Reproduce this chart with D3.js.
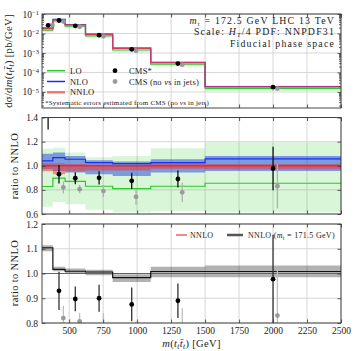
<!DOCTYPE html>
<html>
<head>
<meta charset="utf-8">
<script src="https://cdn.jsdelivr.net/npm/d3@7"></script>
<style>
  body { margin: 0; background: #fff; }
  text { font-family: "Liberation Serif", "DejaVu Serif", serif; fill: #222; }
</style>
</head>
<body>
<svg width="355" height="351"></svg>
<script>

// bin edges of m(tt) [GeV]
var edges = [300, 380, 470, 620, 820, 1100, 1500, 2500];

// NNLO cross section per bin [pb/GeV]
var nnloXsec = [1.8e-2, 5.0e-2, 2.75e-2, 9.1e-3, 1.75e-3, 3.2e-4, 1.8e-5];

// ratios to NNLO (central, low, high)
var loRatio   = [0.828, 0.897, 0.870, 0.830, 0.810, 0.830, 0.855];
var loLow     = [0.660, 0.700, 0.680, 0.635, 0.615, 0.625, 0.615];
var loHigh    = [1.140, 1.150, 1.110, 1.070, 1.080, 1.145, 1.195];
var nloRatio  = [1.040, 1.068, 1.054, 1.026, 1.018, 1.026, 1.057];
var nloLow    = [0.970, 0.957, 0.944, 0.930, 0.916, 0.944, 0.957];
var nloHigh   = [1.100, 1.110, 1.080, 1.045, 1.035, 1.054, 1.080];
var nnloRatio = [1, 1, 1, 1, 1, 1, 1];
var nnloLow   = [0.955, 0.930, 0.955, 0.960, 0.960, 0.975, 0.970];
var nnloHigh  = [1.020, 1.020, 1.015, 1.010, 1.010, 1.020, 1.015];

// NNLO with mt = 171.5 GeV, ratio to NNLO (mt = 172.5 GeV)
var mt171Ratio = [1.104, 1.017, 1.009, 1.006, 0.983, 1.008, 1.008];
var mt171Low   = [1.090, 1.009, 1.000, 0.993, 0.966, 0.985, 0.985];
var mt171High  = [1.114, 1.027, 1.020, 1.015, 0.997, 1.027, 1.032];

// CMS data, ratio to NNLO
var cmsX     = [345, 425, 545, 720, 960, 1300, 2000];
var cmsRatio = [1.45, 0.930, 0.897, 0.900, 0.875, 0.890, 0.977];
var cmsErr   = [0.15, 0.077, 0.050, 0.055, 0.068, 0.070, 0.180];
var cmsNoNuX     = [377, 457, 577, 752, 992, 1332, 2032];
var cmsNoNuRatio = [1.50, 0.820, 0.806, 0.790, 0.742, 0.780, 0.830];
var cmsNoNuErr   = [0.06, 0.050, 0.035, 0.050, 0.065, 0.080, 0.185];

var xTicks = [500, 750, 1000, 1250, 1500, 1750, 2000, 2250, 2500];

var svg = d3.select("svg");
var L = 42, R = 341;

var x = d3.scaleLinear().domain([300, 2500]).range([L, R]);
var yTop = d3.scaleLog().domain([1.5e-6, 0.1]).range([108, 14]);
var yMid = d3.scaleLinear().domain([0.6, 1.4]).range([214, 117.5]);
var yBot = d3.scaleLinear().domain([0.8, 1.2]).range([323, 224]);

var green = "#2ec82e", blue = "#1a2ff0", red = "#ee2a2a";

function stepPts(vals) {
  var pts = vals.map(function(v, i) { return [edges[i], v]; });
  pts.push([edges[edges.length - 1], vals[vals.length - 1]]);
  return pts;
}
function bandPts(lo, hi) {
  var pts = lo.map(function(v, i) { return [edges[i], v, hi[i]]; });
  pts.push([edges[edges.length - 1], lo[lo.length - 1], hi[hi.length - 1]]);
  return pts;
}

function makePanel(id, y, yGrid) {
  var top = y.range()[1], bot = y.range()[0];
  svg.append("clipPath").attr("id", id)
    .append("rect").attr("x", L).attr("y", top).attr("width", R - L).attr("height", bot - top);
  var g = svg.append("g");
  // grid
  g.append("g").selectAll("line").data(xTicks).enter().append("line")
      .attr("x1", function(d) { return x(d); }).attr("x2", function(d) { return x(d); })
      .attr("y1", top).attr("y2", bot)
      .attr("stroke", "#d2d2d2").attr("stroke-width", 0.9);
  g.append("g").selectAll("line").data(yGrid).enter().append("line")
      .attr("x1", L).attr("x2", R)
      .attr("y1", function(d) { return y(d); }).attr("y2", function(d) { return y(d); })
      .attr("stroke", "#d2d2d2").attr("stroke-width", 0.9);
  var inner = g.append("g").attr("clip-path", "url(#" + id + ")");
  return { g: g, inner: inner, top: top, bot: bot, y: y };
}

function frame(p, yMajor, yMinor, labels, isLog) {
  var g = p.g.append("g");
  g.append("g").attr("transform", "translate(0," + p.bot + ")")
    .call(d3.axisBottom(x).tickValues(xTicks).tickSizeInner(-3.5).tickSizeOuter(0)
      .tickPadding(4).tickFormat(labels ? d3.format("d") : ""));
  g.append("g").attr("transform", "translate(0," + p.top + ")")
    .call(d3.axisTop(x).tickValues(xTicks).tickSizeInner(-3.5).tickSizeOuter(0).tickFormat(""));
  var left = g.append("g").attr("transform", "translate(" + L + ",0)")
    .call(d3.axisLeft(p.y).tickValues(yMajor).tickSizeInner(-3.5).tickSizeOuter(0).tickPadding(4)
      .tickFormat(isLog ? "" : d3.format(".1f")));
  g.append("g").attr("transform", "translate(" + R + ",0)")
    .call(d3.axisRight(p.y).tickValues(yMajor).tickSizeInner(-3.5).tickSizeOuter(0).tickFormat(""));
  if (yMinor) {
    g.append("g").attr("transform", "translate(" + L + ",0)")
      .call(d3.axisLeft(p.y).tickValues(yMinor).tickSizeInner(-2).tickSizeOuter(0).tickFormat(""));
    g.append("g").attr("transform", "translate(" + R + ",0)")
      .call(d3.axisRight(p.y).tickValues(yMinor).tickSizeInner(-2).tickSizeOuter(0).tickFormat(""));
  }
  g.selectAll(".domain").remove();
  g.selectAll(".tick line").attr("stroke", "#333").attr("stroke-width", 0.8);
  g.selectAll(".tick text").attr("font-size", 9.5).attr("fill", "#222")
    .style("font-family", "'Liberation Serif', serif");
  if (isLog) {
    left.selectAll(".tick").append("text")
        .attr("x", -3).attr("dy", "0.32em").attr("text-anchor", "end")
        .attr("fill", "#222").attr("font-size", 9.5)
        .style("font-family", "'Liberation Serif', serif")
      .each(function(d) {
        var t = d3.select(this);
        t.append("tspan").text("10");
        t.append("tspan").attr("dy", "-0.45em").attr("font-size", 6.5)
          .text("\u2212" + Math.round(-Math.log10(d)));
      });
  }
  g.append("rect").attr("x", L).attr("y", p.top).attr("width", R - L).attr("height", p.bot - p.top)
    .attr("fill", "none").attr("stroke", "#333").attr("stroke-width", 0.9);
}

function drawBand(p, lo, hi, fill, op, scale) {
  var area = d3.area().curve(d3.curveStepAfter)
    .x(function(d) { return x(d[0]); })
    .y0(function(d, i) { return p.y(d[1] * scale[Math.min(i, scale.length - 1)]); })
    .y1(function(d, i) { return p.y(d[2] * scale[Math.min(i, scale.length - 1)]); });
  p.inner.append("path").datum(bandPts(lo, hi)).attr("d", area)
    .attr("fill", fill).attr("fill-opacity", op);
}

function drawStep(p, vals, color, w, scale, op) {
  var line = d3.line().curve(d3.curveStepAfter)
    .x(function(d) { return x(d[0]); })
    .y(function(d, i) { return p.y(d[1] * scale[Math.min(i, scale.length - 1)]); });
  p.inner.append("path").datum(stepPts(vals)).attr("d", line)
    .attr("fill", "none").attr("stroke", color).attr("stroke-width", w)
    .attr("stroke-opacity", op || 1);
}

function drawPoints(p, xs, vals, errs, color, ecolor, scale) {
  var g = p.inner.append("g");
  xs.forEach(function(xv, i) {
    var s = scale[i];
    if (errs[i] > 0) {
      g.append("line")
        .attr("x1", x(xv)).attr("x2", x(xv))
        .attr("y1", p.y((vals[i] - errs[i]) * s)).attr("y2", p.y((vals[i] + errs[i]) * s))
        .attr("stroke", ecolor).attr("stroke-width", 1.3);
    }
    g.append("circle").attr("cx", x(xv)).attr("cy", p.y(vals[i] * s)).attr("r", 2.4)
      .attr("fill", color);
  });
}

var ones = nnloRatio;
var noErr = [0, 0, 0, 0, 0, 0, 0];

// ---------- top panel ----------
var pTop = makePanel("clipTop", yTop, [1e-5, 1e-4, 1e-3, 1e-2, 1e-1]);
drawBand(pTop, loLow, loHigh, "#00c000", 0.15, nnloXsec);
drawBand(pTop, nloLow, nloHigh, "#3050e0", 0.35, nnloXsec);
drawBand(pTop, nnloLow, nnloHigh, "#e83030", 0.4, nnloXsec);
drawStep(pTop, loRatio, green, 1.2, nnloXsec);
drawStep(pTop, nloRatio, blue, 1.2, nnloXsec);
drawStep(pTop, nnloRatio, "#ee3a50", 1.3, nnloXsec, 0.85);
drawPoints(pTop, cmsNoNuX, cmsNoNuRatio, noErr, "#9a9a9a", "#9a9a9a", nnloXsec);
drawPoints(pTop, cmsX, cmsRatio, noErr, "#000", "#000", nnloXsec);
var minors = [];
for (var e = -6; e < -1; e++) for (var m = 2; m < 10; m++) {
  var v = m * Math.pow(10, e);
  if (v > 1.5e-6 && v < 0.1) minors.push(v);
}
frame(pTop, [1e-5, 1e-4, 1e-3, 1e-2, 1e-1], minors, false, true);

// ---------- middle panel ----------
var pMid = makePanel("clipMid", yMid, [0.6, 0.8, 1.0, 1.2, 1.4]);
drawBand(pMid, loLow, loHigh, "#00c000", 0.15, ones);
drawBand(pMid, nloLow, nloHigh, "#3050e0", 0.55, ones);
drawBand(pMid, nnloLow, nnloHigh, "#e83030", 0.5, ones);
drawStep(pMid, loRatio, green, 1.2, ones);
drawStep(pMid, nloRatio, blue, 1.2, ones);
drawStep(pMid, nnloRatio, red, 1.3, ones);
drawPoints(pMid, cmsNoNuX, cmsNoNuRatio, cmsNoNuErr, "#9a9a9a", "#b0b0b0", ones);
drawPoints(pMid, cmsX, cmsRatio, cmsErr, "#000", "#111", ones);
frame(pMid, [0.6, 0.8, 1.0, 1.2, 1.4], null, false, false);

// ---------- bottom panel ----------
var pBot = makePanel("clipBot", yBot, [0.8, 0.9, 1.0, 1.1, 1.2]);
drawBand(pBot, mt171Low, mt171High, "#000", 0.3, ones);
drawStep(pBot, nnloRatio, red, 1.2, ones);
drawStep(pBot, mt171Ratio, "#111", 1.2, ones);
drawPoints(pBot, cmsNoNuX, cmsNoNuRatio, cmsNoNuErr, "#9a9a9a", "#c0c0c0", ones);
drawPoints(pBot, cmsX, cmsRatio, cmsErr, "#000", "#333", ones);
frame(pBot, [0.8, 0.9, 1.0, 1.1, 1.2], null, true, false);

// ---------- labels ----------
function ylab(cx, cy, build) {
  var t = svg.append("text").attr("transform", "translate(" + cx + "," + cy + ") rotate(-90)")
    .attr("text-anchor", "middle").attr("font-size", 10.5).attr("letter-spacing", 0.35);
  build(t);
}
ylab(12, 61, function(t) {
  t.append("tspan").text("d\u03c3/d");
  t.append("tspan").attr("font-style", "italic").text("m");
  t.append("tspan").text("(");
  t.append("tspan").attr("font-style", "italic").text("t");
  t.append("tspan").attr("font-size", 7.5).attr("dy", 2).attr("font-style", "italic").text("t");
  t.append("tspan").attr("dy", -2).attr("font-style", "italic").text("t\u0304");
  t.append("tspan").attr("font-size", 7.5).attr("dy", 2).attr("font-style", "italic").text("t");
  t.append("tspan").attr("dy", -2).text(") [pb/GeV]");
});
ylab(18, 166, function(t) { t.text("ratio to NNLO"); });
ylab(18, 273, function(t) { t.text("ratio to NNLO"); });

var xl = svg.append("text").attr("x", (L + R) / 2).attr("y", 346.5)
  .attr("text-anchor", "middle").attr("font-size", 10.5).attr("letter-spacing", 0.35);
xl.append("tspan").attr("font-style", "italic").text("m");
xl.append("tspan").text("(");
xl.append("tspan").attr("font-style", "italic").text("t");
xl.append("tspan").attr("font-size", 7.5).attr("dy", 2).attr("font-style", "italic").text("t");
xl.append("tspan").attr("dy", -2).attr("font-style", "italic").text("t\u0304");
xl.append("tspan").attr("font-size", 7.5).attr("dy", 2).attr("font-style", "italic").text("t");
xl.append("tspan").attr("dy", -2).text(") [GeV]");

// top-right annotation
var ann = svg.append("g").attr("font-size", 9.8).attr("text-anchor", "end")
  .attr("letter-spacing", 1.2);
var a1 = ann.append("text").attr("x", 335).attr("y", 24.2);
a1.append("tspan").attr("font-style", "italic").text("m");
a1.append("tspan").attr("font-size", 6.5).attr("dy", 1.3).text("t");
a1.append("tspan").attr("dy", -1.3).text(" = 172.5 GeV LHC 13 TeV");
var a2 = ann.append("text").attr("x", 335).attr("y", 35.3);
a2.append("tspan").text("Scale: ");
a2.append("tspan").attr("font-style", "italic").text("H");
a2.append("tspan").attr("font-size", 6.5).attr("dy", 1.3).attr("font-style", "italic").text("T");
a2.append("tspan").attr("dy", -1.3).text("/4 PDF: NNPDF31");
ann.append("text").attr("x", 335).attr("y", 46.6).text("Fiducial phase space");

// top legend
var lg = svg.append("g").attr("font-size", 8.5).attr("letter-spacing", 0.2);
var lgRows = [
  { label: "LO", color: green, w: 1.5 },
  { label: "NLO", color: blue, w: 1.5 },
  { label: "NNLO", color: "#f07878", w: 2.5 }
];
lgRows.forEach(function(r, i) {
  var yy = 70.7 + i * 10.8;
  lg.append("line").attr("x1", 47).attr("x2", 65).attr("y1", yy).attr("y2", yy)
    .attr("stroke", r.color).attr("stroke-width", r.w);
  lg.append("text").attr("x", 70).attr("y", yy + 3).text(r.label);
});
lg.append("circle").attr("cx", 115).attr("cy", 70.7).attr("r", 2.4).attr("fill", "#000");
lg.append("text").attr("x", 129).attr("y", 73.7).text("CMS*");
lg.append("circle").attr("cx", 115).attr("cy", 81.5).attr("r", 2.4).attr("fill", "#9a9a9a");
var cn = lg.append("text").attr("x", 129).attr("y", 84.5);
cn.append("tspan").text("CMS (no ");
cn.append("tspan").attr("font-style", "italic").text("\u03bd");
cn.append("tspan").text("s in jets)");
var fn = svg.append("text").attr("x", 45).attr("y", 104.5).attr("font-size", 7)
  .attr("letter-spacing", 0.22);
fn.append("tspan").text("*Systematic errors estimated from CMS (no ");
fn.append("tspan").attr("font-style", "italic").text("\u03bd");
fn.append("tspan").text("s in jets)");

// bottom legend
var bl = svg.append("g").attr("font-size", 8).attr("letter-spacing", 0.3);
bl.append("line").attr("x1", 176).attr("x2", 187).attr("y1", 235).attr("y2", 235)
  .attr("stroke", "#f06060").attr("stroke-width", 1.5);
bl.append("text").attr("x", 190).attr("y", 238).text("NNLO");
bl.append("line").attr("x1", 227).attr("x2", 243).attr("y1", 235).attr("y2", 235)
  .attr("stroke", "#555").attr("stroke-width", 2.5);
var b2 = bl.append("text").attr("x", 248).attr("y", 238);
b2.append("tspan").text("NNLO (");
b2.append("tspan").attr("font-style", "italic").text("m");
b2.append("tspan").attr("font-size", 6).attr("dy", 1.5).text("t");
b2.append("tspan").attr("dy", -1.5).text(" = 171.5 GeV)");

</script>
</body>
</html>
